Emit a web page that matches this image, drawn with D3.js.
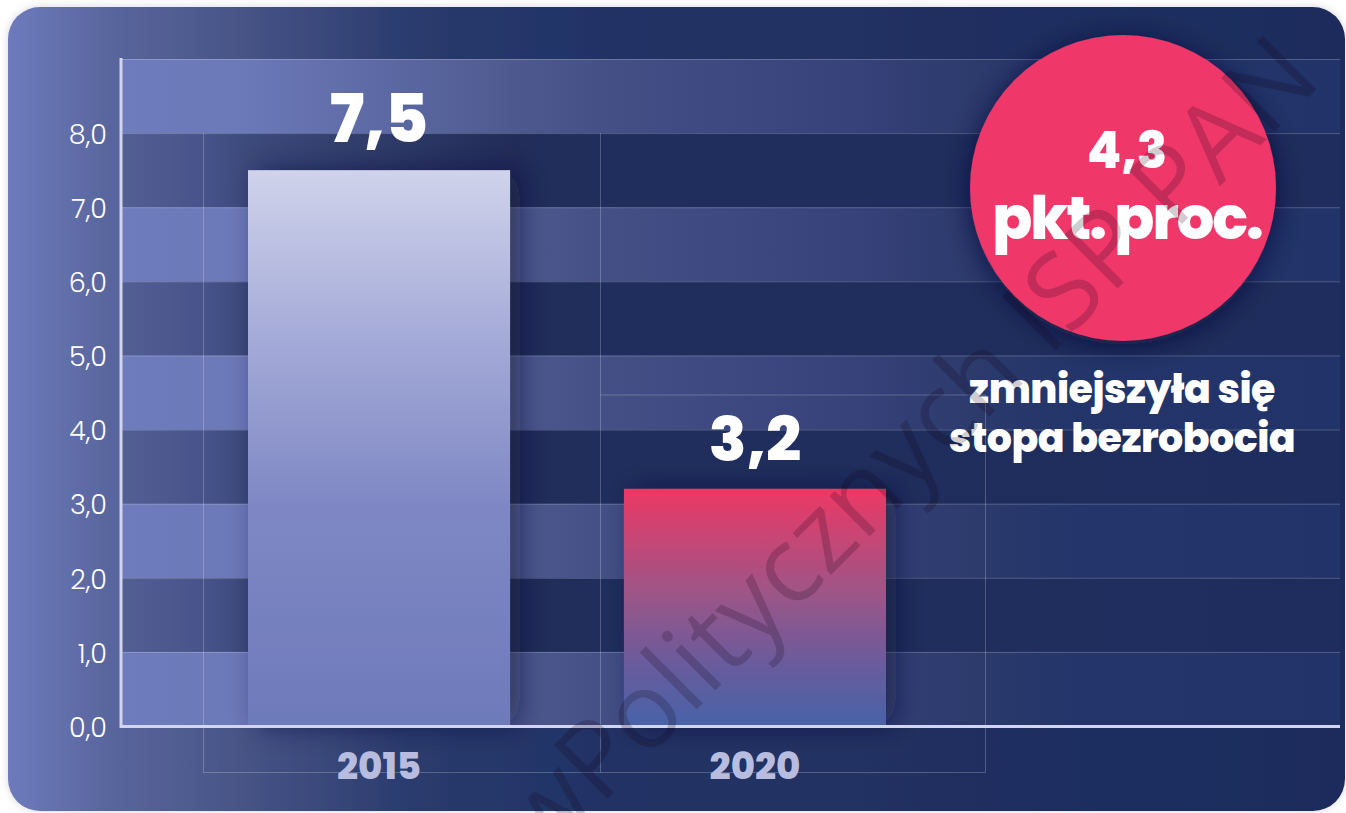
<!DOCTYPE html>
<meta charset="utf-8">
<head>
    <title>Stopa bezrobocia 2015-2020</title>
    <script type="text/javascript" src="https://d3js.org/d3.v7.min.js"></script>
    <style>
        body { margin: 0; background: #ffffff; }
        svg { display: block; }
        .light { font-family: "Poppins", "Open Sans", sans-serif; font-weight: 300; }
        .heavy { font-family: "Poppins", "Inter", "Lato", sans-serif; font-weight: 800; }
    </style>
</head>
<body>
<div id="chart"></div>
<script>

    // data
    var years = ["2015", "2020"];
    var rates = [7.5, 3.2];
    var rateLabels = ["7,5", "3,2"];
    var yTicks = [0, 1, 2, 3, 4, 5, 6, 7, 8];
    var changeLabel = "4,3";
    var changeUnit = "pkt. proc.";
    var captionLines = ["zmniejszyła się", "stopa bezrobocia"];
    var watermarkHead = "Studiów ";
    var watermarkTail = "Politycznych ISP PAN";

    var width = 1346, height = 813;

    var svg = d3.select("#chart").append("svg")
        .attr("width", width)
        .attr("height", height);

    var defs = svg.append("defs");

    // helper for horizontal / vertical gradients
    function gradient(id, stops, x1, y1, x2, y2, user) {
        var g = defs.append("linearGradient").attr("id", id)
            .attr("x1", x1).attr("y1", y1).attr("x2", x2).attr("y2", y2);
        if (user) g.attr("gradientUnits", "userSpaceOnUse");
        stops.forEach(function(s){
            g.append("stop").attr("offset", s[0]).attr("stop-color", s[1]);
        });
    }

    gradient("cardGrad", [[0, "#6d7bbd"], [0.07, "#5a679f"], [0.16, "#4a5789"], [0.3, "#2a3b6d"], [0.45, "#213265"], [1, "#1e2c5c"]], 8, 0, 1345, 0, true);
    gradient("lightBand", [[0, "#6e7bbc"], [0.1, "#6c79b9"], [0.32, "#4e5a8f"], [0.4, "#434f85"], [0.6, "#36427a"], [0.7, "#2c3a6c"], [0.78, "#23356a"], [1, "#213368"]], 122, 0, 1340, 0, true);
    gradient("darkBand", [[0, "#535f93"], [0.07, "#46538a"], [0.1, "#3c4a7c"], [0.32, "#222c58"], [0.4, "#1f2e5d"], [1, "#1e2d5d"]], 122, 0, 1340, 0, true);
    gradient("bar2015", [[0, "#d0d3eb"], [0.3, "#a5abd8"], [0.6, "#7f88c4"], [1, "#6d7abb"]], 0, 0, 0, 1);
    gradient("bar2020", [[0, "#ec3865"], [0.45, "#9b5688"], [0.75, "#675b9d"], [1, "#4764a7"]], 0, 0, 0, 1);

    var shadow = defs.append("filter").attr("id", "shadow")
        .attr("x", "-30%").attr("y", "-30%").attr("width", "160%").attr("height", "160%");
    shadow.append("feDropShadow").attr("dx", 0).attr("dy", 4).attr("stdDeviation", 14)
        .attr("flood-color", "#0b1236").attr("flood-opacity", 0.7);

    var barShadow = defs.append("filter").attr("id", "barShadow")
        .attr("x", "-20%").attr("y", "-10%").attr("width", "150%").attr("height", "120%");
    barShadow.append("feDropShadow").attr("dx", 10).attr("dy", 0).attr("stdDeviation", 14)
        .attr("flood-color", "#0b1236").attr("flood-opacity", 0.55);

    var cardShadow = defs.append("filter").attr("id", "cardShadow")
        .attr("x", "-5%").attr("y", "-5%").attr("width", "110%").attr("height", "110%");
    cardShadow.append("feDropShadow").attr("dx", 0).attr("dy", 0).attr("stdDeviation", 4)
        .attr("flood-color", "#8a8aa8").attr("flood-opacity", 0.35);

    // card
    svg.append("rect")
        .attr("x", 8).attr("y", 7)
        .attr("width", 1337).attr("height", 804)
        .attr("rx", 32)
        .attr("fill", "url(#cardGrad)")
        .attr("filter", "url(#cardShadow)");

    // scales
    var y = d3.scaleLinear().domain([0, 9]).range([726, 59]);
    var x = d3.scaleBand().domain(years).range([248, 886]).paddingInner(0.303).paddingOuter(0);

    var plotLeft = 122, plotRight = 1340;

    // alternating bands between ticks (0-1 up to 8-9)
    var bands = yTicks.slice();
    svg.append("g").selectAll("rect")
        .data(bands)
        .enter().append("rect")
        .attr("x", plotLeft)
        .attr("width", plotRight - plotLeft)
        .attr("y", function(d){ return y(d + 1); })
        .attr("height", function(d){ return y(d) - y(d + 1); })
        .attr("fill", function(d){ return d % 2 == 0 ? "url(#lightBand)" : "url(#darkBand)"; });

    // faint grid lines
    var grid = svg.append("g")
        .attr("stroke", "#ffffff").attr("stroke-opacity", 0.22).attr("stroke-width", 1).attr("fill", "none");
    grid.selectAll("line")
        .data(yTicks.concat([9]))
        .enter().append("line")
        .attr("x1", plotLeft).attr("x2", plotRight)
        .attr("y1", function(d){ return y(d) + 0.5; })
        .attr("y2", function(d){ return y(d) + 0.5; });
    grid.append("path").attr("d", "M203.5,133V772.5H985.5V395H600.5M600.5,133V772.5");

    // bars
    svg.append("g").selectAll("rect")
        .data(years)
        .enter().append("rect")
        .attr("x", function(d){ return x(d); })
        .attr("width", x.bandwidth())
        .attr("y", function(d, i){ return y(rates[i]); })
        .attr("height", function(d, i){ return y(0) - y(rates[i]); })
        .attr("fill", function(d){ return "url(#bar" + d + ")"; })
        .attr("filter", "url(#barShadow)");

    // value labels
    svg.append("g").selectAll("text")
        .data(years)
        .enter().append("text")
        .attr("class", "heavy")
        .attr("x", function(d){ return x(d) + x.bandwidth() / 2; })
        .attr("y", function(d, i){ return y(rates[i]) - 28; })
        .attr("text-anchor", "middle")
        .attr("fill", "#ffffff")
        .style("font-size", function(d, i){ return i == 0 ? "66px" : "62px"; })
        .text(function(d, i){ return rateLabels[i]; });

    // y axis
    var yAxis = d3.axisLeft(y)
        .tickValues(yTicks)
        .tickSize(0)
        .tickPadding(13)
        .tickFormat(function(d){ return d3.format(".1f")(d).replace(".", ","); });
    var gy = svg.append("g")
        .attr("transform", "translate(" + 120 + ",0)")
        .call(yAxis);
    gy.attr("font-family", null);
    gy.select(".domain").remove();
    gy.selectAll(".tick text")
        .attr("class", "light")
        .attr("fill", "#ffffff")
        .attr("dy", "0.38em")
        .style("font-size", "27px");

    // x axis labels
    var xAxis = d3.axisBottom(x).tickSize(0).tickPadding(0);
    var gx = svg.append("g")
        .attr("transform", "translate(0," + 779 + ")")
        .call(xAxis);
    gx.attr("font-family", null);
    gx.select(".domain").remove();
    gx.selectAll(".tick text")
        .attr("class", "heavy")
        .attr("dy", 0)
        .attr("y", 0)
        .attr("fill", "#b8bde0")
        .style("font-size", "37px");

    // axis lines
    svg.append("line")
        .attr("x1", 121).attr("x2", 121).attr("y1", 58).attr("y2", 728)
        .attr("stroke", "#d3d5ee").attr("stroke-width", 3);
    svg.append("line")
        .attr("x1", 120).attr("x2", 1340).attr("y1", 726.5).attr("y2", 726.5)
        .attr("stroke", "#d3d5ee").attr("stroke-width", 3);

    // circle with the change
    svg.append("circle")
        .attr("cx", 1123).attr("cy", 188).attr("r", 153)
        .attr("fill", "#ef3769")
        .attr("filter", "url(#shadow)");
    svg.append("text").attr("class", "heavy")
        .attr("x", 1127).attr("y", 168)
        .attr("text-anchor", "middle").attr("fill", "#ffffff")
        .style("font-size", "50px")
        .text(changeLabel);
    svg.append("text").attr("class", "heavy")
        .attr("x", 1127).attr("y", 239)
        .attr("text-anchor", "middle").attr("fill", "#ffffff")
        .style("font-size", "59px")
        .style("letter-spacing", "-2px")
        .text(changeUnit);

    svg.append("g").selectAll("text")
        .data(captionLines)
        .enter().append("text")
        .attr("class", "heavy")
        .attr("x", 1122)
        .attr("y", function(d, i){ return 403 + i * 49; })
        .attr("text-anchor", "middle")
        .attr("fill", "#ffffff")
        .style("font-size", "39.5px")
        .style("letter-spacing", "-0.5px")
        .text(function(d){ return d; });

    // watermark
    var wm = svg.append("g")
        .attr("transform", "translate(600,806) rotate(-45)")
        .style("font-family", "'Open Sans', 'DejaVu Sans', sans-serif")
        .style("font-weight", 400)
        .style("font-size", "106px")
        .attr("fill", "rgba(20,0,20,0.2)");
    wm.append("text").attr("text-anchor", "end").text(watermarkHead);
    wm.append("text").attr("text-anchor", "start").text(watermarkTail);

</script>
</body>
</html>
